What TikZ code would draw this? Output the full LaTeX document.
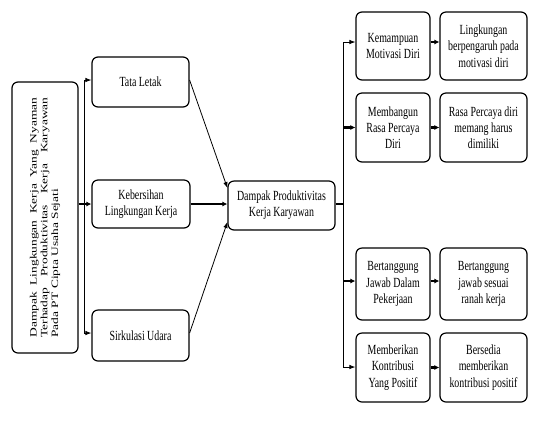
\documentclass[tikz,border=0pt]{standalone}
\usepackage{fontspec}
\setmainfont{Liberation Serif}[FakeStretch=0.71]
\newfontfamily\rotfont{Liberation Serif}
\usetikzlibrary{arrows.meta}
\begin{document}
\begin{tikzpicture}[x=1bp,y=-1bp,
  box/.style={draw, line width=1.2pt, rounded corners=6bp, align=center, inner sep=1pt,
    font=\fontsize{14}{16.3}\selectfont},
  link/.style={line width=0.8pt},
  arr/.style={link, -{Latex[length=6pt,width=4.5pt]}},
  fat/.style={line width=2.2pt},
  fatarr/.style={fat, -{Latex[length=5pt,width=5pt]}}]
\useasboundingbox[fill=white] (0,0) rectangle (533,423);

% left title box
\node[box, minimum width=66bp, minimum height=271bp] (L) at (45,217.5)
  {\rotatebox{90}{\scalebox{1}[0.72]{\rotfont\fontsize{13.5}{15}\selectfont
   \vbox{\baselineskip=15bp
   \hbox to 240bp{Dampak Lingkungan Kerja Yang Nyaman}
   \hbox to 240bp{Terhadap Produktivitas Kerja Karyawan}
   \hbox to 240bp{Pada PT Cipta Usaha Sejati\hfil}}}}};

% middle-left boxes
\node[box, minimum width=97bp, minimum height=50bp] (TL) at (140.5,82) {Tata Letak};
\node[box, minimum width=98bp, minimum height=48bp] (KB) at (141,204) {Kebersihan\\Lingkungan Kerja};
\node[box, minimum width=97bp, minimum height=51bp] (SU) at (140.5,335.5) {Sirkulasi Udara};

% centre box
\node[box, minimum width=107bp, minimum height=49bp] (C) at (281.5,205.5) {Dampak Produktivitas\\Kerja Karyawan};

% right column 1
\node[box, minimum width=74bp, minimum height=68bp] (KM) at (393,46) {Kemampuan\\Motivasi Diri};
\node[box, minimum width=74bp, minimum height=69bp] (MB) at (393,127.5) {Membangun\\Rasa Percaya\\Diri};
\node[box, minimum width=74bp, minimum height=72bp] (BT) at (393,284) {Bertanggung\\Jawab Dalam\\Pekerjaan};
\node[box, minimum width=74bp, minimum height=69bp] (MK) at (393,367.5) {Memberikan\\Kontribusi\\Yang Positif};

% right column 2
\node[box, minimum width=87bp, minimum height=68bp] (LP) at (483.5,46) {Lingkungan\\berpengaruh pada\\motivasi diri};
\node[box, minimum width=87bp, minimum height=69bp] (RP) at (483.5,127.5) {Rasa Percaya diri\\memang harus\\dimiliki};
\node[box, minimum width=87bp, minimum height=72bp] (BJ) at (483.5,284) {Bertanggung\\jawab sesuai\\ranah kerja};
\node[box, minimum width=87bp, minimum height=69bp] (BK) at (483.5,367.5) {Bersedia\\memberikan\\kontribusi positif};

% left distribution
\coordinate (lt) at (84,80);
\coordinate (lb) at (84,333);
\draw[link] (lt) -- (lb);
\draw[arr] (lt) -- (lt -| TL.west);
\draw[arr] (lb) -- (lb -| SU.west);
\draw[fatarr] (L.east |- KB.west) -- (KB.west);

% into centre
\draw[arr] (TL.east |- lt) -- ([yshift=17.5bp]C.west);
\draw[fatarr] (KB.east) -- (KB.east -| C.west);
\draw[arr] (SU.east |- lb) -- ([yshift=-16.5bp]C.west);

% right distribution
\coordinate (rj) at (343,204);
\coordinate (rt) at (343,42);
\coordinate (rb) at (343,367);
\draw[fat] (C.east |- rj) -- (rj);
\draw[link] (rt) -- (rb);
\draw[arr] (rt) -- (rt -| KM.west);
\draw[fatarr] (rt |- MB.west) -- (MB.west);
\draw[fatarr] (343,281) -- (BT.west |- 0,281);
\draw[arr] (rb) -- (rb -| MK.west);

% column 1 to column 2
\draw[fatarr] (KM.east |- rt) -- (LP.west |- rt);
\draw[fatarr] (MB.east) -- (RP.west);
\draw[fatarr] (BT.east |- 0,281) -- (BJ.west |- 0,281);
\draw[fatarr] (MK.east) -- (BK.west);
\end{tikzpicture}
\end{document}
